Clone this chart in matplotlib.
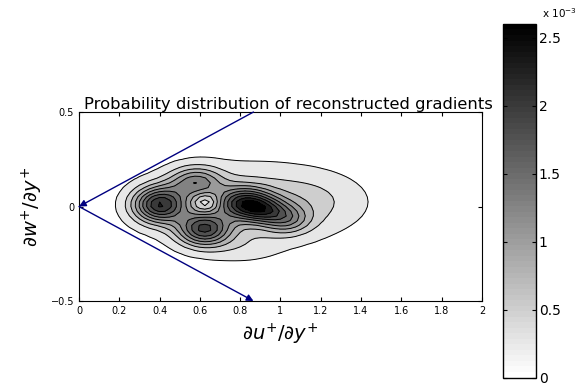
import numpy as np
import matplotlib
matplotlib.use('Agg')
import matplotlib.pyplot as plt
from matplotlib import colors

# Picos de la distribución
blob_x = [0.40, 0.62, 0.58, 0.82, 0.92, 1.03, 0.82, 1.15, 0.63, 0.80]
blob_y = [0.01, -0.12, 0.13, 0.02, -0.02, -0.07, 0.00, 0.03, 0.02, -0.22]
blob_sx = [0.09, 0.09, 0.09, 0.09, 0.08, 0.08, 0.29, 0.19, 0.045, 0.12]
blob_sy = [0.065, 0.06, 0.055, 0.055, 0.045, 0.05, 0.15, 0.10, 0.035, 0.05]
blob_amp = [2.0e-3, 1.7e-3, 1.1e-3, 1.6e-3, 1.0e-3, 0.8e-3, 0.5e-3, 0.3e-3, -0.6e-3, 0.15e-3]

levels = [0.15e-3, 0.4e-3, 0.65e-3, 0.9e-3, 1.15e-3, 1.4e-3, 1.65e-3, 1.9e-3, 2.15e-3, 2.4e-3, 2.8e-3]
cbar_max = 2.6e-3
cbar_ticks = [0, 0.5e-3, 1e-3, 1.5e-3, 2e-3, 2.5e-3]
cbar_labels = ['0', '0.5', '1', '1.5', '2', '2.5']
x_ticks = [0, 0.2, 0.4, 0.6, 0.8, 1, 1.2, 1.4, 1.6, 1.8, 2]
y_ticks = [-0.5, 0, 0.5]

# Flechas a ±30 grados
arrow_up = (0.866, 0.5)
arrow_down = (0.866, -0.5)

u = np.arange(0, 2.001, 0.025)
w = np.arange(-0.5, 0.501, 0.025)
U, W = np.meshgrid(u, w)
P = np.zeros_like(U)
for bx, by, sx, sy, a in zip(blob_x, blob_y, blob_sx, blob_sy, blob_amp):
    P += a * np.exp(-((U - bx) ** 2 / (2 * sx ** 2) + (W - by) ** 2 / (2 * sy ** 2)))

fig = plt.figure(figsize=(5.79, 3.86), dpi=100)
ax = fig.add_axes([0.1364, 0.2202, 0.696, 0.4896])
cax = fig.add_axes([0.8687, 0.022, 0.057, 0.916])

cmap = plt.get_cmap('gray_r', 64)
norm = colors.Normalize(0, cbar_max)
ax.contourf(U, W, P, levels=levels, cmap=cmap, norm=norm, extend='max')
ax.contour(U, W, P, levels=levels, colors='k', linewidths=0.7)

ax.annotate('', xy=(0, 0), xytext=arrow_up,
            arrowprops=dict(arrowstyle='-|>', color='#000080', lw=1, mutation_scale=10,
                            shrinkA=0, shrinkB=0))
ax.annotate('', xy=arrow_down, xytext=(0, 0),
            arrowprops=dict(arrowstyle='-|>', color='#000080', lw=1, mutation_scale=10,
                            shrinkA=0, shrinkB=0))

ax.set_xlim(0, 2)
ax.set_ylim(-0.5, 0.5)
ax.set_xticks(x_ticks)
ax.set_xticklabels(['0', '0.2', '0.4', '0.6', '0.8', '1', '1.2', '1.4', '1.6', '1.8', '2'])
ax.set_yticks(y_ticks)
ax.set_yticklabels(['\u22120.5', '0', '0.5'])
ax.tick_params(direction='in', labelsize=7, length=3, top=True, right=True)
ax.set_xlabel(r'$\partial u^{+}/\partial y^{+}$', fontsize=14)
ax.set_ylabel(r'$\partial w^{+}/\partial y^{+}$', fontsize=14)
ax.set_title('Probability distribution of reconstructed gradients', fontsize=11.8, pad=2, x=0.52)

sm = plt.cm.ScalarMappable(norm=norm, cmap=cmap)
cb = fig.colorbar(sm, cax=cax)
cb.set_ticks(cbar_ticks)
cb.set_ticklabels(cbar_labels)
cax.tick_params(direction='in', labelsize=10, length=3, left=True, right=True, pad=2)
cb.outline.set_linewidth(1)
fig.text(0.997, 0.965, r'x 10$^{-3}$', fontsize=7.5, ha='right', va='center')

fig.savefig('out.png', dpi=100)
